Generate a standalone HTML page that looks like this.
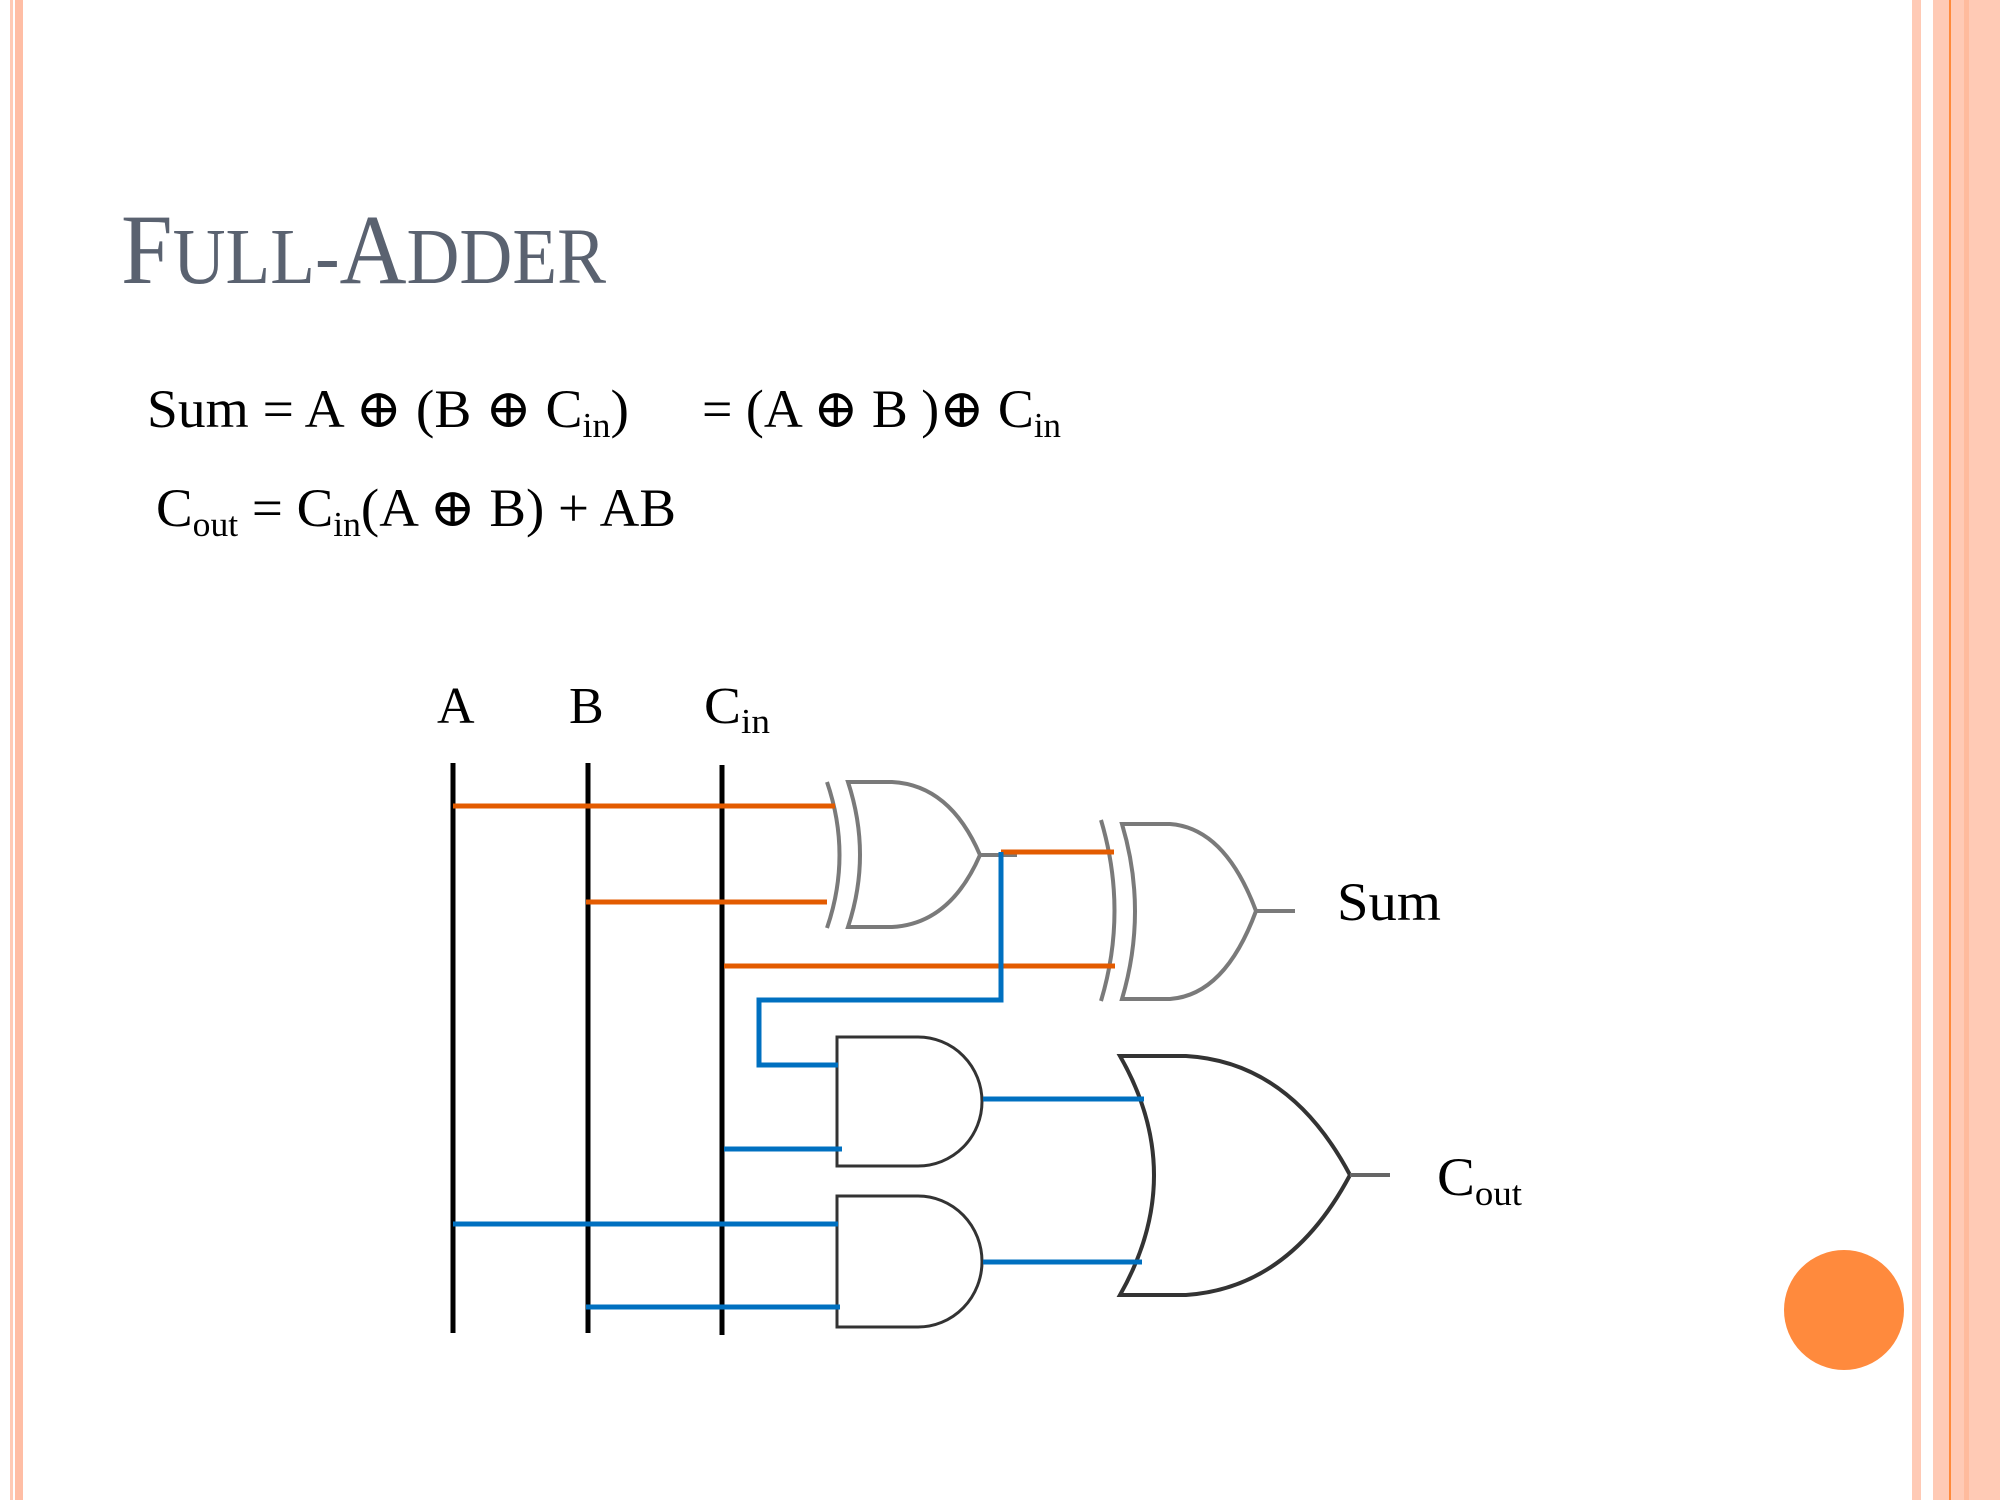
<!DOCTYPE html>
<html><head><meta charset="utf-8"><style>
html,body{margin:0;padding:0;background:#fff;}
svg{display:block;}
text{font-family:"Liberation Serif","DejaVu Serif",serif;fill:#000;}
</style></head><body>
<svg width="2000" height="1500" viewBox="0 0 2000 1500">
<g>
<rect x="10" y="0" width="3" height="1500" fill="#FFCAB5"/>
<rect x="15" y="0" width="8" height="1500" fill="#FFBEA5"/>
<rect x="1912" y="0" width="9" height="1500" fill="#FFCAB5"/>
<rect x="1933" y="0" width="67" height="1500" fill="#FFCAB5"/>
<rect x="1964" y="0" width="5" height="1500" fill="#FFBB9D"/>
<rect x="1949" y="0" width="2" height="1500" fill="#FF8A3A"/>
</g>
<text x="121" y="283" style="fill:#5A6270" textLength="485" lengthAdjust="spacingAndGlyphs"><tspan font-size="100">F</tspan><tspan font-size="79">ULL</tspan><tspan font-size="79">-</tspan><tspan font-size="100">A</tspan><tspan font-size="79">DDER</tspan></text>
<text x="147" y="427" font-size="54" textLength="482" lengthAdjust="spacingAndGlyphs">Sum = A ⊕ (B ⊕ C<tspan font-size="35" dy="10">in</tspan><tspan dy="-10">)</tspan></text>
<text x="702" y="427" font-size="54" textLength="359" lengthAdjust="spacingAndGlyphs">= (A ⊕ B )⊕ C<tspan font-size="35" dy="10">in</tspan></text>
<text x="156" y="526" font-size="54" textLength="520" lengthAdjust="spacingAndGlyphs">C<tspan font-size="35" dy="10">out</tspan><tspan dy="-10"> = C</tspan><tspan font-size="35" dy="10">in</tspan><tspan dy="-10">(A ⊕ B) + AB</tspan></text>

<text x="437" y="723" font-size="52">A</text>
<text x="569" y="723" font-size="52">B</text>
<text x="704" y="723" font-size="52" textLength="66" lengthAdjust="spacingAndGlyphs">C<tspan font-size="35" dy="10">in</tspan></text>

<g stroke="#000" stroke-width="5">
<line x1="453" y1="763" x2="453" y2="1333"/>
<line x1="588" y1="763" x2="588" y2="1333"/>
<line x1="722" y1="765" x2="722" y2="1335"/>
</g>

<g fill="#fff" stroke="#7a7a7a" stroke-width="4">
<path d="M827 782 Q852 855 827 928" fill="none"/>
<path d="M848 782 L892 782 Q950 785 980 855 Q950 924 892 927 L848 927 Q872 855 848 782 Z"/>
<line x1="980" y1="855" x2="1017" y2="855"/>
</g>
<g fill="#fff" stroke="#7a7a7a" stroke-width="4">
<path d="M1101 820 Q1128 911 1101 1001" fill="none"/>
<path d="M1122 824 L1170 824 Q1225 828 1256 911 Q1225 995 1170 999 L1122 999 Q1148 911 1122 824 Z"/>
<line x1="1256" y1="911" x2="1295" y2="911"/>
</g>
<g fill="#fff" stroke="#333" stroke-width="3">
<path d="M837 1037 L918 1037 A64 64.5 0 0 1 918 1166 L837 1166 Z"/>
</g>
<g fill="#fff" stroke="#333" stroke-width="3">
<path d="M837 1196 L918 1196 A64 65.5 0 0 1 918 1327 L837 1327 Z"/>
</g>
<g fill="#fff" stroke="#333" stroke-width="4">
<path d="M1120 1056 L1186 1056 Q1290 1062 1350 1175 Q1290 1288 1186 1295 L1120 1295 Q1188 1175 1120 1056 Z"/>
<line x1="1350" y1="1175" x2="1390" y2="1175" stroke="#666"/>
</g>

<g stroke="#E35B00" stroke-width="5" fill="none">
<line x1="453" y1="806" x2="835" y2="806"/>
<line x1="586" y1="902" x2="827" y2="902"/>
<line x1="1001" y1="852" x2="1114" y2="852"/>
<line x1="724" y1="966" x2="1115" y2="966"/>
</g>
<g stroke="#0070C0" stroke-width="5" fill="none">
<polyline points="1001,852 1001,1000 759,1000 759,1065 838,1065"/>
<line x1="724" y1="1149" x2="842" y2="1149"/>
<line x1="983" y1="1099" x2="1144" y2="1099"/>
<line x1="983" y1="1262" x2="1142" y2="1262"/>
<line x1="453" y1="1224" x2="838" y2="1224"/>
<line x1="586" y1="1307" x2="840" y2="1307"/>
</g>

<text x="1337" y="920" font-size="54" textLength="104" lengthAdjust="spacingAndGlyphs">Sum</text>
<text x="1437" y="1195" font-size="54" textLength="85" lengthAdjust="spacingAndGlyphs">C<tspan font-size="35" dy="10">out</tspan></text>

<circle cx="1844" cy="1310" r="60" fill="#FF8A3D"/>
</svg>
</body></html>
